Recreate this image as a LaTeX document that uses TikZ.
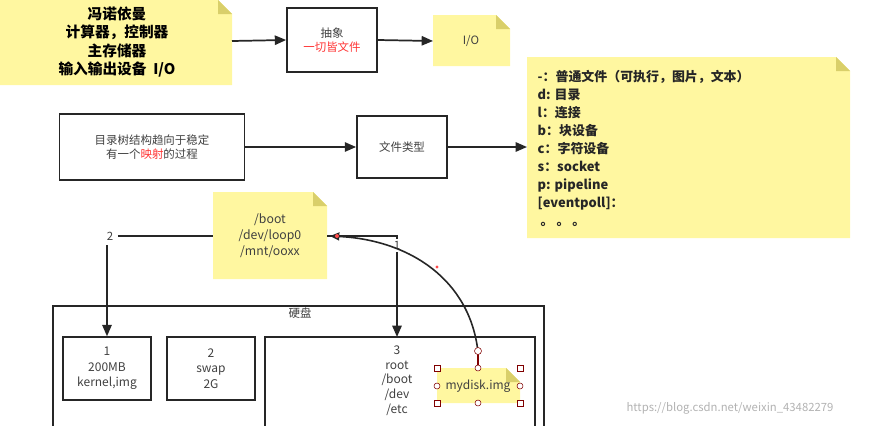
\documentclass[tikz,border=0pt]{standalone}
\usepackage{fontspec}
\setmainfont{Noto Sans CJK SC}
\usetikzlibrary{arrows.meta}
\definecolor{noteY}{HTML}{FFF7A0}
\definecolor{fold}{HTML}{D9CF6A}
\begin{document}
\begin{tikzpicture}[x=0.75pt,y=-0.75pt,
  box/.style={draw=black!85,line width=1.3pt},
  arr/.style={draw=black!85,line width=1.3pt,-{Triangle[length=8.5pt,width=7pt]}},
  t/.style={font=\fontsize{8.6}{11}\selectfont,align=center,text=black!75},
  handle/.style={draw=red!50!black,fill=white,line width=0.4pt}]
\useasboundingbox (0,0) rectangle (874,425);
\newcommand{\note}[5]{% name x1 y1 x2 y2
  \fill[noteY] (#2,#3) -- (#4-14,#3) -- (#4,#3+14) -- (#4,#5) -- (#2,#5) -- cycle;
  \fill[fold] (#4-14,#3) -- (#4,#3+14) -- (#4-14,#3+14) -- cycle;
  \coordinate (#1) at ({(#2+#4)/2},{(#3+#5)/2});}
\note{n1}{0}{0}{232}{85}
\node[font=\fontsize{11}{13.8}\selectfont\bfseries,align=center] (t1) at (117,42) {冯诺依曼\\计算器，控制器\\主存储器\\输入输出设备\ \ I/O};
\node[box,minimum width=67.5pt,minimum height=48pt,inner sep=0,t] (abs) at (332,40) {抽象\\\textcolor{red!80}{一切皆文件}};
\note{n2}{433}{15}{510}{66}
\node[t] (io) at (471,41) {I/O};
\draw[arr] (232,41) -- (abs.west);
\draw[arr] (abs.east) -- (433,41);
\note{n3}{527}{57}{850}{238}
\node[font=\fontsize{9.7}{13.5}\selectfont\bfseries,align=left,anchor=north west,text=black!85] (types) at (533,66) {-：普通文件（可执行，图片，文本）\\d: 目录\\l：连接\\b：块设备\\c：字符设备\\s：socket\\p: pipeline\\{[eventpoll]}：\\\ 。 。 。};
\node[box,minimum width=138.75pt,minimum height=49.5pt,inner sep=0,t] (tree) at (152,147) {目录树结构趋向于稳定\\有一个\textcolor{red!80}{映射}的过程};
\node[box,minimum width=67.5pt,minimum height=46.5pt,inner sep=0,t] (ft) at (402,147) {文件类型};
\draw[arr] (tree.east) -- (ft.west);
\draw[arr] (ft.east) -- (527,147);
\note{n4}{213}{192}{327}{279}
\node[t,font=\fontsize{9.2}{12}\selectfont] (mnt) at (270,236) {/boot\\/dev/loop0\\/mnt/ooxx};
\draw[box] (53,306) rectangle (544,440);
\node[t] (hd) at (300,313) {硬盘};
\node[box,minimum width=66pt,minimum height=47pt,inner sep=0,t,font=\fontsize{9}{11.5}\selectfont] (p1) at (107,368.5) {1\\200MB\\kernel,img};
\node[box,minimum width=66pt,minimum height=47pt,inner sep=0,t,font=\fontsize{9}{11.5}\selectfont] (p2) at (211,368.5) {2\\swap\\2G};
\draw[box] (265,337) rectangle (535,440);
\node[t,font=\fontsize{9}{11}\selectfont,anchor=north] (p3t) at (397,341) {3\\root\\/boot\\/dev\\/etc};
\node[t] (l2) at (110,236) {2};
\draw[box] (l2.east) -- (213,236);
\draw[arr] (107,245) -- (p1.north);
\draw[box] (327,236) -- (397,236) -- (397,239);
\node[t] (l1) at (397,245) {1};
\draw[arr] (397,252) -- (397,337);
\note{n5}{437}{368}{520}{403}
\node[t,font=\fontsize{9}{11}\selectfont] (md) at (478,386) {mydisk.img};
\draw[line width=1.2pt,black!85,-{Triangle[length=7pt,width=6pt]}] (478,368) -- (478,352) .. controls (470,280) and (410,240) .. (330,236);
\draw[handle,line width=0.8pt] (478,368) -- (478,352);
\draw[handle] (478,351) circle (3.5);
\fill[red!70] (437,267) circle (1.6);
\fill[red!70] (337,236) circle (2);
\foreach \p in {(437,368),(520,368),(437,403),(520,403)} \draw[handle] \p ++(-3,-3) rectangle ++(6,6);
\foreach \p in {(478,368),(478,403),(437,386),(520,386)} \draw[handle] \p circle (3);
\node[font=\fontsize{8.5}{10}\selectfont,text=black!30] (wm) at (730,408) {https://blog.csdn.net/weixin\_43482279};
\end{tikzpicture}
\end{document}
